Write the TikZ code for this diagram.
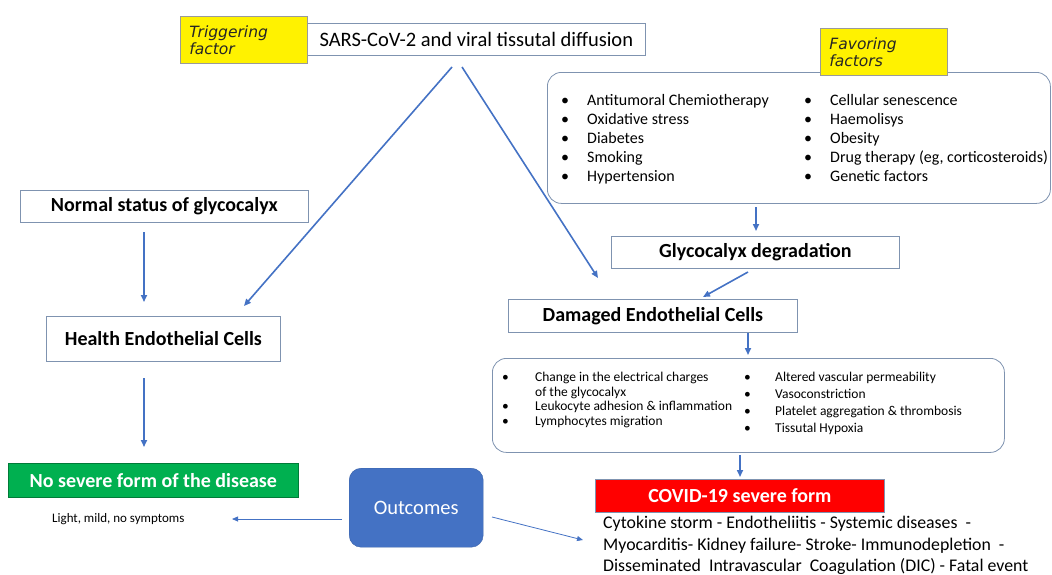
\documentclass[tikz,border=0pt]{standalone}
\usepackage{fontspec}
\setmainfont{Carlito}
\newfontfamily\hand{DejaVu Sans}
\usetikzlibrary{arrows.meta}
\definecolor{arr}{HTML}{4472C4}
\definecolor{bd}{HTML}{7F93B0}
\definecolor{ygrey}{HTML}{9A9A9A}
\definecolor{gfill}{HTML}{00B050}
\definecolor{rfill}{HTML}{FF0000}
\definecolor{ofill}{HTML}{4472C4}
\newcommand{\fs}[2]{\fontsize{#1}{#2}\selectfont}
\begin{document}
\begin{tikzpicture}[x=1pt,y=-1pt,
  box/.style={draw=bd, line width=0.8pt, anchor=north west, inner sep=0pt, align=center},
  ybox/.style={draw=ygrey, line width=0.8pt, fill=yellow, anchor=north west, inner xsep=9pt, inner ysep=0pt, text width=109pt, align=left, minimum height=47pt, font=\hand\itshape\fs{15.5}{17}, text=black!85},
  rbox/.style={draw=bd, line width=0.8pt, anchor=north west, inner sep=0pt, rounded corners=14pt},
  title/.style={font=\bfseries\fs{20}{22}},
  con/.style={draw=arr, line width=1.6pt, -{Triangle[length=7pt,width=6pt]}},
  thinarr/.style={draw=arr, line width=0.8pt, -{Triangle[length=6pt,width=5pt]}},
  blist/.style={anchor=north west, inner sep=0pt}
]
\useasboundingbox (0,0) rectangle (1052,574);

% top
\node[box, minimum width=338pt, minimum height=32pt, font=\fs{20.5}{22}] (sars) at (307,23) {SARS-CoV-2 and viral tissutal diffusion};
\node[ybox] (trig) at (180,16) {Triggering\\factor};

% favoring factors
\node[rbox, minimum width=503pt, minimum height=131pt] (fav) at (547,72) {};
\node[ybox] (favt) at (820,28) {Favoring\\factors};
\node[blist, font=\fs{16}{19}] (favl) at (561,91.5) {\begin{tabular}{@{}p{26pt}@{}l@{}}
\textbullet & Antitumoral Chemiotherapy\\
\textbullet & Oxidative stress\\
\textbullet & Diabetes\\
\textbullet & Smoking\\
\textbullet & Hypertension
\end{tabular}};
\node[blist, font=\fs{16}{19}] (favr) at (804,91.5) {\begin{tabular}{@{}p{26pt}@{}l@{}}
\textbullet & Cellular senescence\\
\textbullet & Haemolisys\\
\textbullet & Obesity\\
\textbullet & Drug therapy (eg, corticosteroids)\\
\textbullet & Genetic factors
\end{tabular}};

% right chain
\node[box, minimum width=288pt, minimum height=32pt, title] (glyco) at (611,236) {Glycocalyx degradation};
\node[box, minimum width=289pt, minimum height=33pt, title] (dam) at (508,299) {Damaged Endothelial Cells};
\node[rbox, minimum width=512pt, minimum height=94pt] (eff) at (492,358) {};
\node[blist, font=\fs{13.5}{14.5}] (effl) at (502,371.5) {\begin{tabular}{@{}p{33pt}@{}l@{}}
\textbullet & Change in the electrical charges\\
 & of the glycocalyx\\
\textbullet & Leukocyte adhesion \& inflammation\\
\textbullet & Lymphocytes migration
\end{tabular}};
\node[blist, font=\fs{13.5}{17}] (effr) at (744,369.5) {\begin{tabular}{@{}p{31pt}@{}l@{}}
\textbullet & Altered vascular permeability\\
\textbullet & Vasoconstriction\\
\textbullet & Platelet aggregation \& thrombosis\\
\textbullet & Tissutal Hypoxia
\end{tabular}};
\node[box, fill=rfill, text=white, minimum width=289pt, minimum height=33pt, title] (sev) at (595,479) {COVID-19 severe form};
\node[anchor=north west, inner sep=0pt, align=left, font=\fs{17.8}{21.5}] (sevt) at (603,516) {Cytokine storm - Endotheliitis - Systemic diseases \ -\\Myocarditis- Kidney failure- Stroke- Immunodepletion \ -\\Disseminated \ Intravascular \ Coagulation (DIC) - Fatal event};

% left chain
\node[box, minimum width=288pt, minimum height=32pt, title] (norm) at (20,190) {Normal status of glycocalyx};
\node[box, minimum width=234pt, minimum height=45pt, title] (health) at (46,316) {Health Endothelial Cells};
\node[box, draw=gfill!70!black, fill=gfill, text=white, minimum width=290pt, minimum height=34pt, title] (nosev) at (8,463) {No severe form of the disease};
\node[anchor=west, inner sep=0pt, font=\fs{13}{14}] (light) at (52,519) {Light, mild, no symptoms};

% outcomes
\node[anchor=north west, inner sep=0pt, fill=ofill, draw=ofill!85!black, rounded corners=12pt, minimum width=134pt, minimum height=79pt, text=white, font=\fs{20.5}{22}] (out) at (349,468) {Outcomes};

% connector end points
\coordinate (s1) at (452,67);
\coordinate (s2) at (462,67);
\coordinate (h1) at (244,306);
\coordinate (d1) at (598,278);
\coordinate (n1) at (144,232);
\coordinate (n2) at (144,302);
\coordinate (h2) at (144,378);
\coordinate (g1) at (144,447);
\coordinate (f1) at (756,207);
\coordinate (f2) at (756,231);
\coordinate (gl1) at (748,272);
\coordinate (gl2) at (703,297);
\coordinate (dm1) at (748,333);
\coordinate (dm2) at (748,355);
\coordinate (e1) at (740,455);
\coordinate (e2) at (740,477);
\coordinate (o1) at (342,519);
\coordinate (o2) at (232,519);
\coordinate (o3) at (492,517);
\coordinate (o4) at (583,540);

\draw[con] (s1) -- (h1);
\draw[con] (s2) -- (d1);
\draw[con] (n1) -- (n2);
\draw[con] (h2) -- (g1);
\draw[con] (f1) -- (f2);
\draw[con] (gl1) -- (gl2);
\draw[con] (dm1) -- (dm2);
\draw[con] (e1) -- (e2);
\draw[thinarr] (o1) -- (o2);
\draw[thinarr] (o3) -- (o4);
\end{tikzpicture}
\end{document}
